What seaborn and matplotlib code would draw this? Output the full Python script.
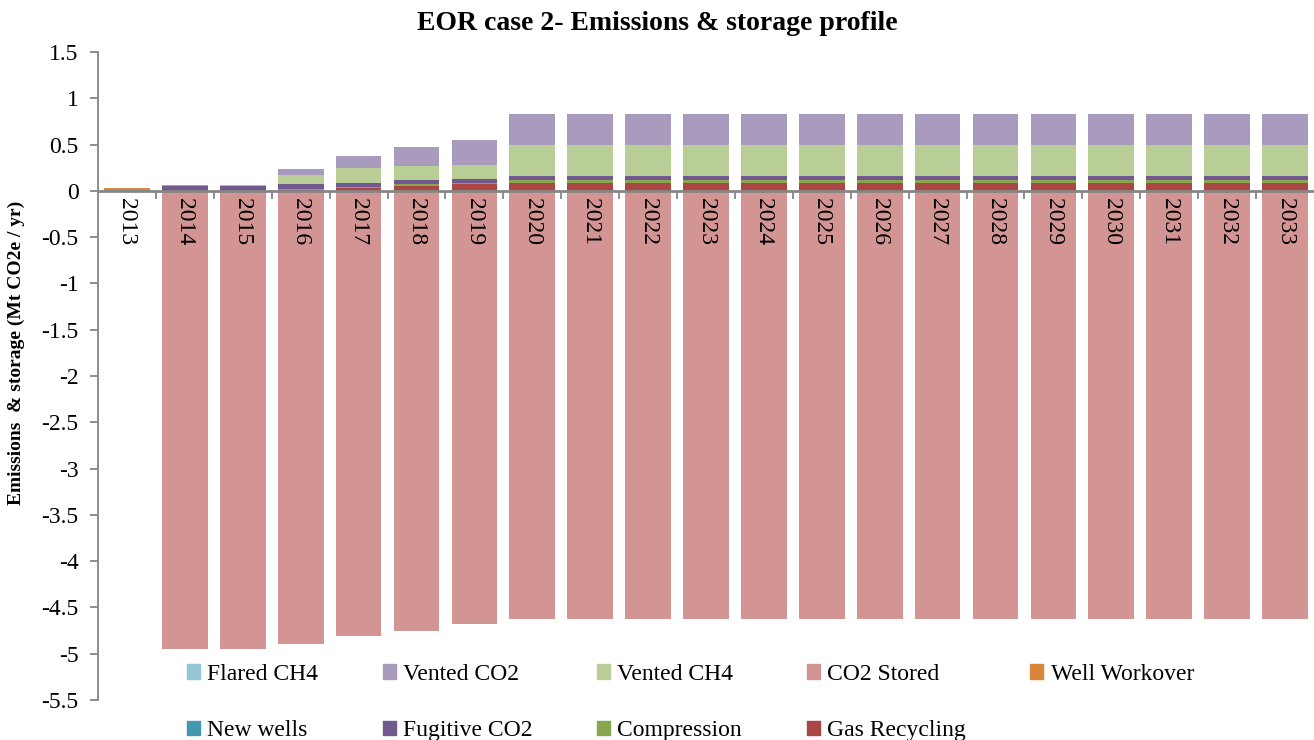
import numpy as np
import pandas as pd
import matplotlib
matplotlib.use("Agg")
import matplotlib.pyplot as plt
import seaborn as sns

years = [str(y) for y in range(2013, 2034)]

# series in stacking order (first = bottom of positive stack)
gas_recycling = [0, 0, 0, 0.012, 0.03, 0.054, 0.07] + [0.09] * 14
compression = [0, 0, 0, 0.012, 0.015, 0.015, 0.015] + [0.03] * 14
fugitive_co2 = [0, 0.055, 0.05, 0.045, 0.045, 0.045, 0.045] + [0.045] * 14
new_wells = [0.006, 0, 0.005, 0, 0, 0, 0] + [0] * 14
well_workover = [0.03, 0, 0, 0, 0, 0, 0] + [0] * 14
co2_stored = [0, -4.95, -4.95, -4.89, -4.81, -4.75, -4.68] + [-4.62] * 14
vented_ch4 = [0, 0, 0, 0.105, 0.155, 0.155, 0.15] + [0.335] * 14
vented_co2 = [0, 0.004, 0, 0.065, 0.135, 0.2, 0.27] + [0.33] * 14
flared_ch4 = [0, 0, 0.006, 0, 0, 0, 0] + [0] * 14

series = [
    ("Gas Recycling", gas_recycling, "#AA4643"),
    ("Compression", compression, "#89A54E"),
    ("Fugitive CO2", fugitive_co2, "#71588F"),
    ("New wells", new_wells, "#4198AF"),
    ("Well Workover", well_workover, "#DB843D"),
    ("CO2 Stored", co2_stored, "#D39494"),
    ("Vented CH4", vented_ch4, "#B9CD96"),
    ("Vented CO2", vented_co2, "#A99BBD"),
    ("Flared CH4", flared_ch4, "#93C6D8"),
]

sns.set_theme(style="white")
plt.rcParams["font.family"] = ["Liberation Serif", "DejaVu Serif"]
plt.rcParams["text.color"] = "black"
plt.rcParams["axes.labelcolor"] = "black"
plt.rcParams["xtick.color"] = "black"
plt.rcParams["ytick.color"] = "black"

fig = plt.figure(figsize=(13.14, 7.4), dpi=100)
ax = fig.add_axes([0.0746, 0.054, 0.9254, 0.8757])

pos_bottom = np.zeros(len(years))
neg_bottom = np.zeros(len(years))
handles = {}
for name, vals, col in series:
    vals = np.array(vals, dtype=float)
    bottom = np.where(vals >= 0, pos_bottom, neg_bottom)
    df = pd.DataFrame({"year": years, "value": vals})
    sns.barplot(data=df, x="year", y="value", order=years, bottom=bottom,
                color=col, width=0.79, errorbar=None, linewidth=0,
                saturation=1, ax=ax)
    pos_bottom = pos_bottom + np.where(vals >= 0, vals, 0)
    neg_bottom = neg_bottom + np.where(vals < 0, vals, 0)
    handles[name] = plt.Rectangle((0, 0), 1, 1, color=col)

ax.set_axisbelow(False)
ax.set_xlim(-0.5, len(years) - 0.5)
ax.set_ylim(-5.5, 1.5)
ax.set_yticks(np.arange(-5.5, 1.51, 0.5))
ax.set_yticklabels([f"{v:g}" for v in np.arange(-5.5, 1.51, 0.5)], fontsize=17)

for s in ["top", "right"]:
    ax.spines[s].set_visible(False)
ax.spines["left"].set_color("#868686")
ax.spines["left"].set_linewidth(1.3)
ax.spines["bottom"].set_position(("data", 0))
ax.spines["bottom"].set_color("#868686")
ax.spines["bottom"].set_linewidth(2)

ax.set_xticks(range(len(years)))
ax.set_xticklabels(years, rotation=270, fontsize=17)
ax.set_xticks(np.arange(0.5, len(years) - 0.5, 1), minor=True)
ax.tick_params(axis="x", which="major", length=0, pad=5)
ax.tick_params(axis="x", which="minor", length=6, width=1.3, color="#868686",
               direction="out", bottom=True)
ax.tick_params(axis="y", length=6, width=1.3, color="#868686", left=True,
               direction="out", pad=8, labelcolor="black")
ax.set_xlabel("")
ax.set_ylabel("Emissions  & storage (Mt CO2e / yr)", fontsize=14,
              fontweight="bold")
ax.yaxis.set_label_coords(-0.06, 0.535)

fig.suptitle("EOR case 2- Emissions & storage profile", fontsize=20,
             fontweight="bold", x=0.5, y=0.985)

order = ["Flared CH4", "New wells", "Vented CO2", "Fugitive CO2", "Vented CH4",
         "Compression", "CO2 Stored", "Gas Recycling", "Well Workover"]
fig.legend([handles[n] for n in order], order, ncol=5, frameon=False,
           loc="upper left", bbox_to_anchor=(0.142, 0.103), fontsize=17,
           handlelength=0.55, handleheight=0.55, handletextpad=0.3,
           labelspacing=1.5, columnspacing=2.75, borderpad=0, borderaxespad=0)

fig.savefig("out.png", dpi=100)
